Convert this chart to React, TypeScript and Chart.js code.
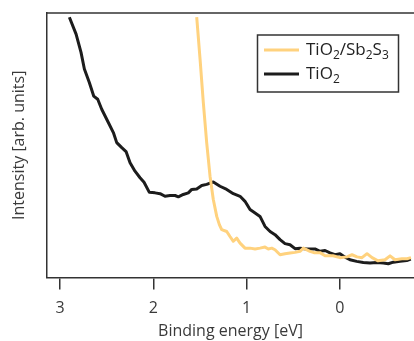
import React, { useEffect, useRef } from "react";
import { Chart, registerables } from "chart.js";

Chart.register(...registerables);

// Binding energy (eV) and intensity (arb. units)
const tio2X = [2.9, 2.828, 2.775, 2.739, 2.686, 2.639, 2.596, 2.553, 2.482, 2.428, 2.392, 2.338, 2.292, 2.249, 2.196, 2.142, 2.099, 2.042, 1.981, 1.927, 1.874, 1.82, 1.766, 1.731, 1.678, 1.624, 1.587, 1.534, 1.48, 1.427, 1.356, 1.284, 1.212, 1.141, 1.069, 1.016, 0.962, 0.908, 0.855, 0.801, 0.747, 0.694, 0.64, 0.587, 0.533, 0.479, 0.426, 0.354, 0.265, 0.211, 0.157, 0.104, 0.05, -0.003, -0.057, -0.11, -0.182, -0.253, -0.325, -0.397, -0.468, -0.521, -0.575, -0.647, -0.719, -0.762];
const tio2Y = [98.4, 92.0, 85.1, 78.8, 73.7, 68.6, 67.4, 63.6, 58.6, 54.8, 51.0, 49.1, 47.6, 43.4, 40.2, 37.7, 36.0, 32.2, 32.0, 31.7, 30.7, 31.0, 31.0, 30.5, 31.4, 32.0, 33.3, 33.5, 34.8, 35.2, 36.1, 34.5, 33.3, 31.7, 30.7, 28.8, 25.7, 24.4, 23.1, 19.3, 17.4, 16.2, 14.3, 12.8, 12.4, 10.9, 11.1, 10.8, 10.8, 9.9, 10.2, 9.3, 8.6, 9.0, 7.7, 6.7, 6.1, 5.7, 5.5, 5.7, 5.5, 5.2, 5.8, 6.1, 6.4, 7.0];

const sbX = [1.534, 1.498, 1.463, 1.427, 1.391, 1.356, 1.319, 1.291, 1.266, 1.212, 1.177, 1.141, 1.105, 1.069, 1.016, 0.962, 0.908, 0.855, 0.801, 0.766, 0.729, 0.694, 0.64, 0.587, 0.533, 0.479, 0.426, 0.39, 0.319, 0.276, 0.211, 0.157, 0.072, -0.003, -0.078, -0.132, -0.186, -0.239, -0.293, -0.347, -0.411, -0.486, -0.54, -0.593, -0.668, -0.722, -0.765];
const sbY = [98.4, 82.6, 66.1, 51.0, 38.3, 29.5, 23.1, 20.0, 18.1, 17.4, 15.5, 13.7, 14.9, 13.0, 11.1, 11.1, 10.8, 11.1, 11.5, 10.8, 11.1, 10.5, 8.6, 9.0, 9.3, 9.5, 9.9, 11.1, 9.9, 9.4, 9.4, 8.2, 8.2, 7.5, 7.8, 8.6, 7.8, 7.5, 9.0, 7.5, 6.3, 6.7, 8.2, 6.7, 7.1, 7.1, 7.5];

const xTicks = [3, 2, 1, 0];
const xMin = -0.797;
const xMax = 3.14;

// legend labels as [text, isSubscript] segments
const legendSb: [string, boolean][] = [["TiO", false], ["2", true], ["/Sb", false], ["2", true], ["S", false], ["3", true]];
const legendTi: [string, boolean][] = [["TiO", false], ["2", true]];

const FONT = "'Open Sans', 'Liberation Sans', sans-serif";
const AXIS = "#333333";
const TEXT = "#3a3a3a";
const YELLOW = "#FFD27E";
const BLACK = "#1c1c1c";

const framePlugin = {
  id: "frameAndLegend",
  afterDraw(chart: any) {
    const { ctx, chartArea } = chart;
    ctx.save();
    // top frame line
    ctx.strokeStyle = AXIS;
    ctx.lineWidth = 1.5;
    ctx.beginPath();
    ctx.moveTo(chartArea.left, chartArea.top);
    ctx.lineTo(chartArea.right, chartArea.top);
    ctx.stroke();

    // legend box
    const bx = 257.5, by = 35, bw = 141, bh = 57;
    ctx.lineWidth = 1.5;
    ctx.fillStyle = "#ffffff";
    ctx.fillRect(bx, by, bw, bh);
    ctx.strokeRect(bx, by, bw, bh);

    const entries = [
      { parts: legendSb, color: chart.data.datasets[0].borderColor, y: 50 },
      { parts: legendTi, color: chart.data.datasets[1].borderColor, y: 74 },
    ];
    for (const e of entries) {
      ctx.strokeStyle = e.color;
      ctx.lineWidth = 3;
      ctx.beginPath();
      ctx.moveTo(264, e.y);
      ctx.lineTo(299, e.y);
      ctx.stroke();
      let x = 306;
      ctx.fillStyle = "#222222";
      ctx.textBaseline = "middle";
      for (const [t, sub] of e.parts) {
        ctx.font = sub ? `12px ${FONT}` : `17px ${FONT}`;
        ctx.fillText(t, x, sub ? e.y + 6 : e.y);
        x += ctx.measureText(t).width;
      }
    }
    ctx.restore();
  },
};

export default function App() {
  const ref = useRef<HTMLCanvasElement>(null);
  useEffect(() => {
    document.body.style.margin = "0";
    const chart = new Chart(ref.current as HTMLCanvasElement, {
      type: "line",
      data: {
        datasets: [
          {
            label: "TiO2/Sb2S3",
            data: sbX.map((x, i) => ({ x, y: sbY[i] })),
            borderColor: YELLOW,
            borderWidth: 3,
            pointRadius: 0,
            tension: 0,
            borderJoinStyle: "round",
          },
          {
            label: "TiO2",
            data: tio2X.map((x, i) => ({ x, y: tio2Y[i] })),
            borderColor: BLACK,
            borderWidth: 3,
            pointRadius: 0,
            tension: 0,
            borderJoinStyle: "round",
          },
        ],
      },
      options: {
        animation: false,
        responsive: false,
        maintainAspectRatio: false,
        layout: { padding: { top: 13, right: 0, left: 0, bottom: 0 } },
        plugins: { legend: { display: false }, tooltip: { enabled: false } },
        scales: {
          x: {
            type: "linear",
            reverse: true,
            min: xMin,
            max: xMax,
            afterBuildTicks: (axis: any) => {
              axis.ticks = xTicks.map((v) => ({ value: v }));
            },
            afterFit: (scale: any) => {
              scale.height = 63.5;
            },
            grid: {
              display: true,
              drawOnChartArea: false,
              drawTicks: true,
              tickLength: 12,
              tickColor: AXIS,
              lineWidth: 1.5,
            },
            border: { display: true, color: AXIS, width: 1.5 },
            ticks: {
              color: TEXT,
              font: { family: FONT, size: 16 },
              padding: 9,
              maxRotation: 0,
              callback: (v: any) => String(v),
            },
            title: {
              display: true,
              text: "Binding energy [eV]",
              color: TEXT,
              font: { family: FONT, size: 16 },
              padding: { top: 0, bottom: 0 },
            },
          },
          y: {
            type: "linear",
            min: 0,
            max: 100,
            afterFit: (scale: any) => {
              scale.width = 47;
            },
            grid: { display: false },
            border: { display: true, color: AXIS, width: 1.5 },
            ticks: { display: false },
            title: {
              display: true,
              text: "Intensity [arb. units]",
              color: TEXT,
              font: { family: FONT, size: 16 },
              padding: { top: 10, bottom: 0 },
            },
          },
        },
      },
      plugins: [framePlugin],
    } as any);
    return () => chart.destroy();
  }, []);
  return (
    <div style={{ position: "absolute", left: 0, top: 0, width: 414, height: 341 }}>
      <canvas ref={ref} width={414} height={341} style={{ width: 414, height: 341 }} />
    </div>
  );
}
